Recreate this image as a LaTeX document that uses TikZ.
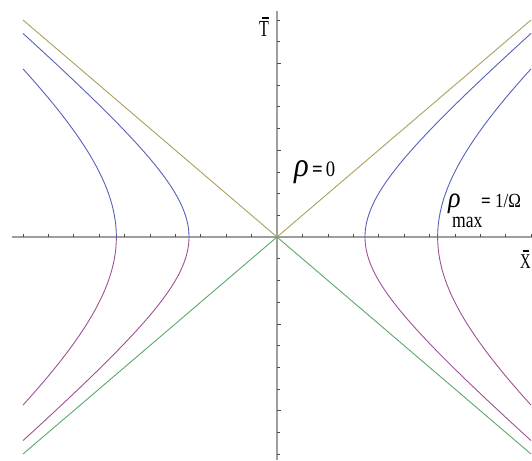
\documentclass[tikz,border=0pt]{standalone}
\usepackage{fontspec}
\setmainfont{Liberation Serif}
\usepackage{graphicx}
\definecolor{mblue}{rgb}{0.34,0.38,0.72}
\definecolor{mmag}{rgb}{0.62,0.32,0.58}
\definecolor{molive}{rgb}{0.66,0.63,0.36}
\definecolor{mgreen}{rgb}{0.36,0.66,0.42}
\definecolor{axgray}{rgb}{0.62,0.62,0.62}
\tikzset{
  axisline/.style={axgray, line width=1.4pt},
  tickmark/.style={black!70, line width=0.6pt},
  curve/.style={line width=0.9pt},
  lbl/.style={inner sep=0pt, anchor=base west},
}
\newcommand{\barT}{\makebox[0pt][l]{\hspace{0.17em}\raisebox{0.78em}{\rule{0.42em}{0.07em}}}T}
\newcommand{\barX}{\makebox[0pt][l]{\hspace{0.17em}\raisebox{0.78em}{\rule{0.42em}{0.07em}}}X}
\begin{document}
\begin{tikzpicture}[x=25.4pt, y=21.7pt]
\useasboundingbox (-277pt,-223pt) rectangle (255pt,237pt);
% axes
\coordinate (xl) at (-265pt,0);
\coordinate (xr) at (255pt,0);
\coordinate (yt) at (0,226pt);
\coordinate (yb) at (0,-223pt);
\draw[axisline] (xl) -- (xr);
\draw[axisline] (yt) -- (yb);
% ticks
\foreach \k in {-10,...,-1,1,2,...,10}{
  \draw[tickmark] (\k,0) -- ++(0,3pt);
  \draw[tickmark] (0,\k) -- ++(2.5pt,0);
}
\foreach \k in {-8,-4,4,8}{
  \draw[tickmark] (0,\k) -- ++(4pt,0);
}
% asymptotes
\coordinate (O) at (0,0);
\coordinate (ul) at (-10,10);
\coordinate (ur) at (10,10);
\coordinate (ll) at (-10,-10);
\coordinate (lr) at (10,-10);
\draw[curve, molive] (ul) -- (O) -- (ur);
\draw[curve, mgreen] (ll) -- (O) -- (lr);
% hyperbolas
\foreach \a/\tm in {12/9.3808, 40/7.7460}{
  \draw[curve, mblue] plot[smooth, domain=0:\tm, samples=60] ({sqrt(\a+\x*\x)},\x);
  \draw[curve, mblue] plot[smooth, domain=0:\tm, samples=60] ({-sqrt(\a+\x*\x)},\x);
  \draw[curve, mmag] plot[smooth, domain=0:\tm, samples=60] ({sqrt(\a+\x*\x)},-\x);
  \draw[curve, mmag] plot[smooth, domain=0:\tm, samples=60] ({-sqrt(\a+\x*\x)},-\x);
}
% labels
\node[lbl] (tlab) at (-18pt,200pt) {\fontsize{23}{23}\selectfont\scalebox{0.7}[1]{\barT}};
\node[lbl] (xlab) at (243pt,-31pt) {\fontsize{21}{21}\selectfont\scalebox{0.7}[1]{\barX}};
\node[lbl] (rho0) at (17pt,60pt) {\fontsize{34}{34}\selectfont\scalebox{0.9}[1]{\itshape ρ}};
\node[lbl] (eq0) at (35pt,60pt) {\fontsize{22}{22}\selectfont\scalebox{0.85}[1]{\textbf{=}\,0}};
\node[lbl] (rhom) at (171pt,30pt) {\fontsize{29}{29}\selectfont\scalebox{0.9}[1]{\itshape ρ}};
\node[lbl] (maxl) at (175pt,10pt) {\fontsize{22}{22}\selectfont\scalebox{0.8}[1]{max}};
\node[lbl] (eqm) at (204pt,30pt) {\fontsize{20}{20}\selectfont\scalebox{0.85}[1]{\textbf{=} 1/Ω}};
\end{tikzpicture}
\end{document}
